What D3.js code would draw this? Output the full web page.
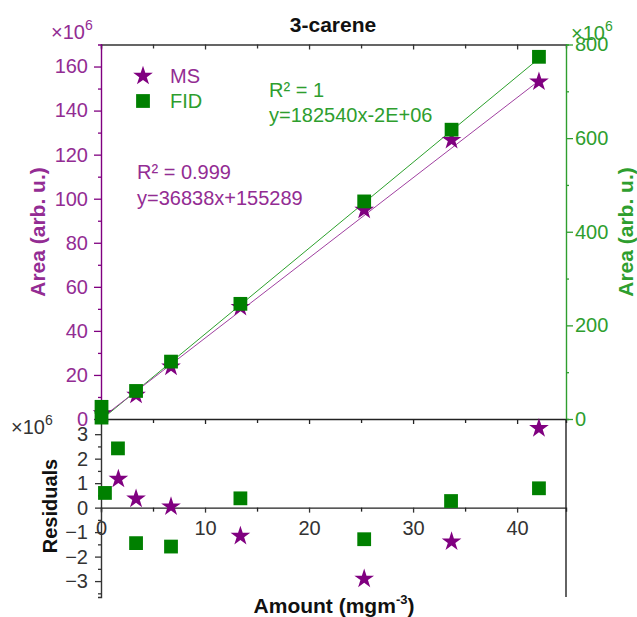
<!DOCTYPE html>
<html>
<head>
<meta charset="utf-8">
<script src="https://cdn.jsdelivr.net/npm/d3@7"></script>
<style>
  body { margin: 0; background: #fff; }
  svg text { font-family: "Liberation Sans", Arial, sans-serif; }
</style>
</head>
<body>
<div id="chart"></div>
<script>
const width = 637;
const height = 617;

// top panel: calibration (areas in 1e6 units)
const msAmount = [0.15, 3.37, 6.73, 13.4, 25.3, 33.7, 42.1];
const msArea = [2.5, 10.9, 23.7, 50.8, 94.9, 126.6, 153.1];
const fidAmount = [0.05, 0.05, 3.37, 6.73, 13.4, 25.3, 33.7, 42.1];
const fidArea = [26, 3, 59.9, 122.6, 246, 464.8, 618, 773.7];

// fitted lines as drawn (slope, intercept in plot units)
const msFit = { slope: 3.64, intercept: 0.3, from: 0.2, to: 42.1 };
const fidFit = { slope: 18.34, intercept: -2, from: 0.2, to: 42.1 };

// bottom panel: residuals (1e6 units)
const msResAmount = [1.67, 3.37, 6.73, 13.4, 25.3, 33.7, 42.1];
const msResidual = [1.17, 0.36, 0.04, -1.16, -2.91, -1.39, 3.24];
const fidResAmount = [0.38, 1.63, 3.37, 6.73, 13.4, 25.3, 33.65, 42.1];
const fidResidual = [0.6, 2.42, -1.45, -1.59, 0.38, -1.29, 0.27, 0.79];

const xTicks = [0, 10, 20, 30, 40];
const xMinor = [5, 15, 25, 35];
const leftTicks = [0, 20, 40, 60, 80, 100, 120, 140, 160];
const leftMinor = [10, 30, 50, 70, 90, 110, 130, 150];
const rightTicks = [0, 200, 400, 600, 800];
const rightMinor = [100, 300, 500, 700];
const resTicks = [-3, -2, -1, 0, 1, 2, 3];
const resMinor = [-3.5, -2.5, -1.5, -0.5, 0.5, 1.5, 2.5, 3.5];

const purple = "#800080";
const purpleText = "#932c93";
const purpleLine = "#a040a0";
const green = "#008000";
const greenText = "#2e9e2e";
const grey = "#333";

const svg = d3.select("#chart").append("svg")
    .attr("width", width)
    .attr("height", height);

const x = d3.scaleLinear().domain([0, 44.7]).range([101, 566]);
const yLeft = d3.scaleLinear().domain([0, 170]).range([419, 44.5]);
const yRight = d3.scaleLinear().domain([0, 800]).range([419, 44.5]);
const yRes = d3.scaleLinear().domain([-3.65, 3.62]).range([597, 419]);

const fontSize = 20;

function styleAxis(g, color) {
    g.selectAll("path").attr("stroke", color).attr("stroke-width", 1.4);
    g.selectAll("line").attr("stroke", color).attr("stroke-width", 1.3);
    g.selectAll("text")
        .attr("fill", color)
        .style("font-size", fontSize + "px")
        .style("font-family", "'Liberation Sans', Arial, sans-serif");
}

// ---- top panel axes ----
// top border with inward ticks
svg.append("g")
    .attr("transform", "translate(0,44.5)")
    .call(d3.axisBottom(x).tickValues(xMinor).tickSize(4).tickFormat(""))
    .call(g => styleAxis(g, grey));
svg.append("g")
    .attr("transform", "translate(0,44.5)")
    .call(d3.axisBottom(x).tickValues(xTicks).tickSize(5).tickFormat(""))
    .call(g => g.select(".domain").remove())
    .call(g => styleAxis(g, grey));

// bottom of top panel
svg.append("g")
    .attr("transform", "translate(0,419)")
    .call(d3.axisBottom(x).tickValues(xMinor).tickSize(4).tickFormat(""))
    .call(g => styleAxis(g, "#222"));
svg.append("g")
    .attr("transform", "translate(0,419)")
    .call(d3.axisBottom(x).tickValues(xTicks).tickSize(5).tickFormat(""))
    .call(g => g.select(".domain").remove())
    .call(g => styleAxis(g, "#222"));

// left axis (MS)
svg.append("g")
    .attr("transform", "translate(101,0)")
    .call(d3.axisLeft(yLeft).tickValues(leftMinor).tickSize(3).tickFormat(""))
    .call(g => styleAxis(g, purple));
svg.append("g")
    .attr("transform", "translate(101,0)")
    .call(d3.axisLeft(yLeft).tickValues(leftTicks).tickSize(7).tickPadding(6))
    .call(g => g.select(".domain").remove())
    .call(g => styleAxis(g, purple))
    .call(g => g.selectAll("text").attr("fill", purpleText));

// right axis (FID)
svg.append("g")
    .attr("transform", "translate(566,0)")
    .call(d3.axisRight(yRight).tickValues(rightMinor).tickSize(3).tickFormat(""))
    .call(g => styleAxis(g, greenText));
svg.append("g")
    .attr("transform", "translate(566,0)")
    .call(d3.axisRight(yRight).tickValues(rightTicks).tickSize(7).tickPadding(2))
    .call(g => g.select(".domain").remove())
    .call(g => styleAxis(g, greenText));

// ---- residual panel axes ----
svg.append("g")
    .attr("transform", "translate(101,0)")
    .call(d3.axisLeft(yRes).tickValues(resMinor).tickSize(3).tickFormat(""))
    .call(g => styleAxis(g, grey));
svg.append("g")
    .attr("transform", "translate(101,0)")
    .call(d3.axisLeft(yRes).tickValues(resTicks).tickSize(6).tickPadding(7)
        .tickFormat(d => d < 0 ? "\u2212" + Math.abs(d) : d))
    .call(g => g.select(".domain").remove())
    .call(g => styleAxis(g, grey));

// right border of residual panel
svg.append("line")
    .attr("x1", 566).attr("x2", 566)
    .attr("y1", yRes(3.62)).attr("y2", yRes(-3.65))
    .attr("stroke", "#222").attr("stroke-width", 1.4);

// zero line with x ticks + labels
svg.append("g")
    .attr("transform", `translate(0,${yRes(0)})`)
    .call(d3.axisBottom(x).tickValues(xMinor).tickSize(4).tickFormat(""))
    .call(g => styleAxis(g, "#222"));
svg.append("g")
    .attr("transform", `translate(0,${yRes(0)})`)
    .call(d3.axisBottom(x).tickValues(xTicks).tickSize(5).tickPadding(8))
    .call(g => g.select(".domain").remove())
    .call(g => styleAxis(g, grey));

// ---- fit lines ----
svg.append("path")
    .datum([fidFit.from, fidFit.to].map(a => [a, fidFit.slope * a + fidFit.intercept]))
    .attr("d", d3.line().x(d => x(d[0])).y(d => yRight(d[1])))
    .attr("fill", "none")
    .attr("stroke", "#2ca02c")
    .attr("stroke-width", 1);
svg.append("path")
    .datum([msFit.from, msFit.to].map(a => [a, msFit.slope * a + msFit.intercept]))
    .attr("d", d3.line().x(d => x(d[0])).y(d => yLeft(d[1])))
    .attr("fill", "none")
    .attr("stroke", purpleLine)
    .attr("stroke-width", 1);

// ---- markers ----
const star = d3.symbol().type(d3.symbolStar).size(120);
const square = d3.symbol().type(d3.symbolSquare).size(190);

svg.append("g").selectAll("path")
    .data(d3.zip(msAmount, msArea))
    .join("path")
    .attr("d", star)
    .attr("transform", d => `translate(${x(d[0])},${yLeft(d[1])})`)
    .attr("fill", purple);

svg.append("g").selectAll("path")
    .data(d3.zip(fidAmount, fidArea))
    .join("path")
    .attr("d", square)
    .attr("transform", d => `translate(${x(d[0])},${yRight(d[1])})`)
    .attr("fill", green);

svg.append("g").selectAll("path")
    .data(d3.zip(msResAmount, msResidual))
    .join("path")
    .attr("d", star)
    .attr("transform", d => `translate(${x(d[0])},${yRes(d[1])})`)
    .attr("fill", purple);

svg.append("g").selectAll("path")
    .data(d3.zip(fidResAmount, fidResidual))
    .join("path")
    .attr("d", square)
    .attr("transform", d => `translate(${x(d[0])},${yRes(d[1])})`)
    .attr("fill", green);

// ---- texts ----
function addText(px, py, str, color, opts = {}) {
    return svg.append("text")
        .attr("x", px).attr("y", py)
        .attr("fill", color)
        .attr("text-anchor", opts.anchor || "start")
        .style("font-size", (opts.size || fontSize) + "px")
        .style("font-weight", opts.bold ? "bold" : "normal")
        .text(str);
}

addText(333, 32, "3-carene", "#111", { anchor: "middle", bold: true, size: 21 });

// multipliers
function multiplier(px, py, color) {
    const t = addText(px, py, "\u00d710", color);
    t.append("tspan").attr("dy", -9).style("font-size", "14px").text("6");
}
multiplier(51, 39, purpleText);
multiplier(571, 40, greenText);
multiplier(11, 434, grey);

// legend
svg.append("path").attr("d", star).attr("transform", "translate(143,76)").attr("fill", purple);
addText(170, 83, "MS", purpleText);
svg.append("path").attr("d", square).attr("transform", "translate(143,101)").attr("fill", green);
addText(170, 108, "FID", greenText);

// fit annotations
addText(269, 97, "R\u00b2 = 1", greenText);
addText(269, 122, "y=182540x-2E+06", greenText);
addText(137, 179, "R\u00b2 = 0.999", purpleText);
addText(137, 205, "y=36838x+155289", purpleText);

// axis titles
svg.append("text")
    .attr("transform", "translate(45,232) rotate(-90)")
    .attr("text-anchor", "middle")
    .attr("fill", purpleText)
    .style("font-size", "21px").style("font-weight", "bold")
    .text("Area (arb. u.)");

svg.append("text")
    .attr("transform", "translate(633,232) rotate(-90)")
    .attr("text-anchor", "middle")
    .attr("fill", greenText)
    .style("font-size", "21px").style("font-weight", "bold")
    .text("Area (arb. u.)");

svg.append("text")
    .attr("transform", "translate(57,506) rotate(-90)")
    .attr("text-anchor", "middle")
    .attr("fill", "#111")
    .style("font-size", "20px").style("font-weight", "bold")
    .text("Residuals");

const xt = svg.append("text")
    .attr("x", 334).attr("y", 613)
    .attr("text-anchor", "middle")
    .attr("fill", "#111")
    .style("font-size", "21px").style("font-weight", "bold")
    .text("Amount (mgm");
xt.append("tspan").attr("dy", -9).style("font-size", "13px").text("-3");
xt.append("tspan").attr("dy", 9).text(")");
</script>
</body>
</html>
